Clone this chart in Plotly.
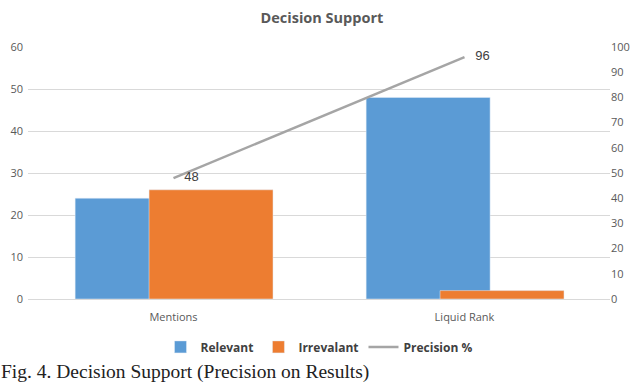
import plotly.graph_objects as go

categories = ["Mentions", "Liquid Rank"]
relevant = [24, 48]
irrelevant = [26, 2]
precision = [48, 96]
left_ticks = [0, 10, 20, 30, 40, 50, 60]
right_ticks = [0, 10, 20, 30, 40, 50, 60, 70, 80, 90, 100]

fig = go.Figure()
fig.add_trace(go.Bar(x=categories, y=relevant, name="<b>Relevant</b>", marker_color="#5B9BD5",
                     width=0.426, offset=-0.338))
fig.add_trace(go.Bar(x=categories, y=irrelevant, name="<b>Irrevalant</b>", marker_color="#ED7D31",
                     width=0.426, offset=-0.084))
fig.add_trace(go.Scatter(x=categories, y=precision, name="<b>Precision %</b>", yaxis="y2",
                         mode="lines+text", texttemplate="   %{y}",
                         textposition="middle right",
                         textfont=dict(size=13, color="#404040", family="Liberation Sans"),
                         line=dict(color="#A5A5A5", width=2.5)))

fig.update_layout(
    width=640, height=385,
    margin=dict(l=28, r=30, t=47, b=86, autoexpand=False),
    paper_bgcolor="white", plot_bgcolor="white",
    barmode="overlay",
    font=dict(family="Open Sans", color="#595959", size=11),
    title=dict(text="<b>Decision Support</b>", x=0.503, xanchor="center", y=0.953, yanchor="middle",
               font=dict(size=14.5, color="#595959", family="Open Sans")),
    xaxis=dict(type="category", range=[-0.5, 1.5], showgrid=False, showline=True,
               linecolor="#D9D9D9", ticks="", automargin=False, ticklabelstandoff=8,
               tickfont=dict(size=11, color="#595959")),
    yaxis=dict(range=[0, 60], tickvals=left_ticks, showgrid=True, gridcolor="#D9D9D9",
               zeroline=False, ticks="", automargin=False, ticklabelstandoff=4,
               tickfont=dict(size=11, color="#595959")),
    yaxis2=dict(range=[0, 100], tickvals=right_ticks, overlaying="y", side="right",
                showgrid=False, zeroline=False, ticks="", automargin=False,
                tickfont=dict(size=11, color="#595959")),
    legend=dict(orientation="h", x=0.5, xanchor="center", y=-0.19, yanchor="middle",
                font=dict(size=12, color="#404040"), traceorder="normal"),
    showlegend=True,
)
fig.add_annotation(text="Fig. 4. Decision Support (Precision on Results)", xref="paper", yref="paper",
                   x=-0.05, y=-0.29, xanchor="left", yanchor="middle", showarrow=False,
                   font=dict(family="Liberation Serif", size=19.5, color="#222222"))

fig.write_html("out.html", config={"displayModeBar": False},
               post_script="document.body.style.margin='0';")
